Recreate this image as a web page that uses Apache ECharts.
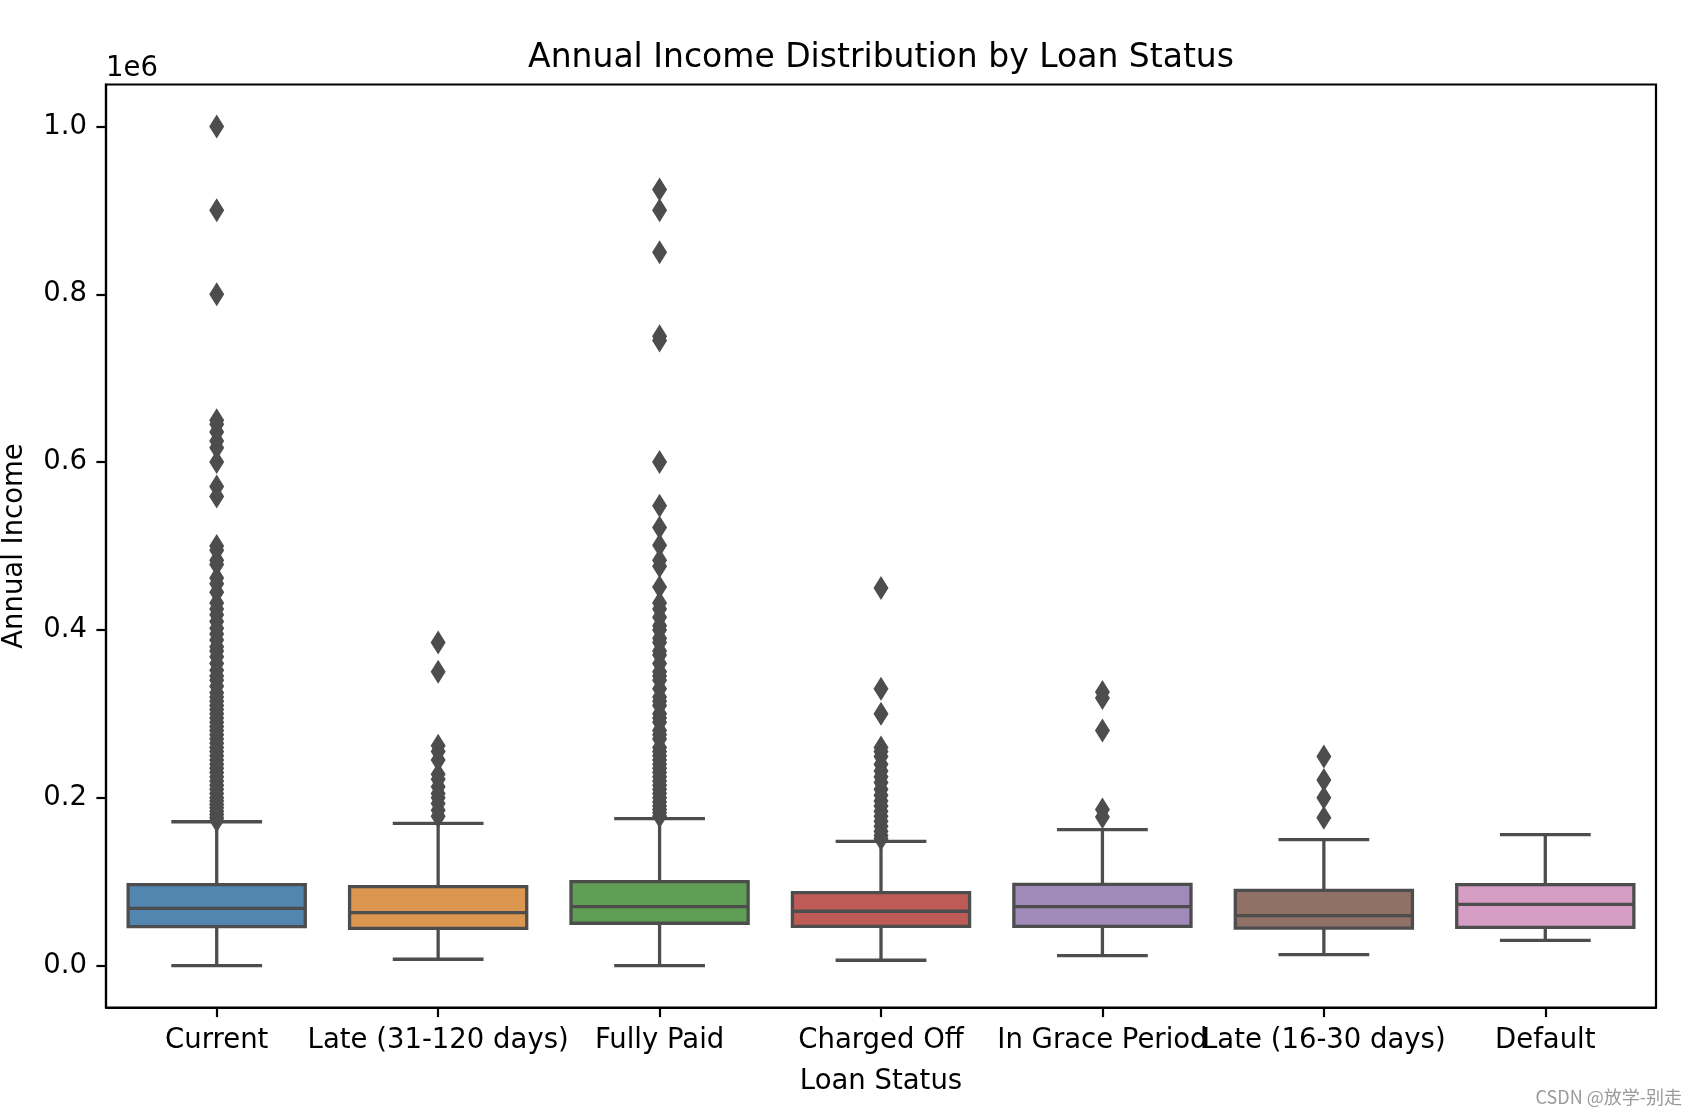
<!DOCTYPE html>
<html>
<head>
<meta charset="utf-8">
<script src="https://cdn.jsdelivr.net/npm/echarts@6/dist/echarts.min.js"></script>
<style>
html,body{margin:0;padding:0;background:#fff;}
#chart{width:1696px;height:1118px;}
</style>
</head>
<body>
<div id="chart"></div>
<script>
// ---- data ----
const categories = ["Current", "Late (31-120 days)", "Fully Paid", "Charged Off", "In Grace Period", "Late (16-30 days)", "Default"];
const lowWhisker  = [0,      7500,   0,      6300,   11900,  13100,  30100];
const q1Values    = [46400,  44400,  50400,  46800,  46800,  44500,  45600];
const medianValues= [68200,  63100,  70200,  64700,  70200,  59500,  73000];
const q3Values    = [96400,  94000,  100000, 86900,  96800,  89700,  96400];
const highWhisker = [171400, 169400, 175000, 148000, 162000, 150000, 156000];

const outliersCurrent = [1000000, 900000, 800000, 650000, 645000, 636000, 625000, 617000, 600000, 571000, 559000,
  500000, 495000, 483000, 478000, 462000, 455000, 445000, 432000, 425000, 418000, 410000, 402000, 395000, 388000,
  380000, 375000, 368000, 360000, 352000, 345000, 340000, 333000, 325000, 320000, 315000, 310000, 305000, 300000,
  295000, 290000, 285000, 280000, 275000, 270000, 265000, 260000, 255000, 250000, 245000, 240000, 235000, 230000,
  225000, 220000, 215000, 210000, 205000, 200000, 196000, 192000, 188000, 184000, 180000, 176000, 173000];
const outliersLate31 = [385000, 350000, 262000, 255000, 245000, 228000, 222000, 213000, 205000, 200000, 193000, 185000, 178000];
const outliersFullyPaid = [925000, 900000, 850000, 750000, 745000, 600000, 548000, 522000, 501000, 483000, 476000,
  451000, 432000, 425000, 415000, 405000, 400000, 390000, 385000, 375000, 370000, 360000, 350000, 345000, 340000,
  330000, 320000, 315000, 310000, 300000, 295000, 290000, 280000, 275000, 270000, 260000, 255000, 250000, 245000,
  240000, 235000, 230000, 225000, 220000, 215000, 210000, 205000, 200000, 195000, 190000, 186000, 182000, 178000];
const outliersChargedOff = [450000, 330000, 300000, 260000, 255000, 249000, 240000, 232000, 225000, 218000, 210000,
  203000, 196000, 190000, 184000, 178000, 172000, 166000, 160000, 155000, 151000];
const outliersGrace = [326000, 319000, 280000, 186000, 177000];
const outliersLate16 = [249000, 221000, 200000, 176000];
const outliersDefault = [];

const yTickValues = [0, 200000, 400000, 600000, 800000, 1000000];
const yTickLabels = ["0.0", "0.2", "0.4", "0.6", "0.8", "1.0"];
const yScaleText = "1e6";

// ---- style ----
const boxColors = ['#5286b0', '#db974f', '#5f9f55', '#bf5b56', '#a08ab9', '#917066', '#d69dc5'];
const lineColor = '#4d4d4d';
const FONT = 'DejaVu Sans';

const outlierLists = [outliersCurrent, outliersLate31, outliersFullyPaid, outliersChargedOff, outliersGrace, outliersLate16, outliersDefault];

const boxData = categories.map((c, i) => [i, lowWhisker[i], q1Values[i], medianValues[i], q3Values[i], highWhisker[i]]);
const outlierData = [];
outlierLists.forEach((list, i) => list.forEach(v => outlierData.push([i, v])));

const chart = echarts.init(document.getElementById('chart'));

function renderBox(params, api) {
  const i = api.value(0);
  const band = api.size([1, 0])[0];
  const halfBox = band * 0.4;
  const capHalf = band * 0.205;
  const pLow = api.coord([i, api.value(1)]);
  const pQ1 = api.coord([i, api.value(2)]);
  const pMed = api.coord([i, api.value(3)]);
  const pQ3 = api.coord([i, api.value(4)]);
  const pHigh = api.coord([i, api.value(5)]);
  const x = pMed[0];
  const lw = 3.3;
  const ls = { stroke: lineColor, lineWidth: lw, fill: null };
  return {
    type: 'group',
    children: [
      { type: 'line', shape: { x1: x, y1: pQ1[1], x2: x, y2: pLow[1] }, style: ls },
      { type: 'line', shape: { x1: x, y1: pQ3[1], x2: x, y2: pHigh[1] }, style: ls },
      { type: 'line', shape: { x1: x - capHalf, y1: pLow[1], x2: x + capHalf, y2: pLow[1] }, style: ls },
      { type: 'line', shape: { x1: x - capHalf, y1: pHigh[1], x2: x + capHalf, y2: pHigh[1] }, style: ls },
      { type: 'rect', shape: { x: x - halfBox, y: pQ3[1], width: halfBox * 2, height: pQ1[1] - pQ3[1] },
        style: { fill: boxColors[params.dataIndex], stroke: lineColor, lineWidth: lw } },
      { type: 'line', shape: { x1: x - halfBox, y1: pMed[1], x2: x + halfBox, y2: pMed[1] }, style: ls }
    ]
  };
}

const option = {
  animation: false,
  backgroundColor: '#ffffff',
  title: {
    text: 'Annual Income Distribution by Loan Status',
    left: 881,
    textAlign: 'center',
    top: 42,
    padding: 0,
    textStyle: { fontFamily: FONT, fontSize: 33, fontWeight: 'normal', color: '#000' }
  },
  grid: { left: 106, right: 40, top: 84.5, bottom: 110.5, outerBoundsMode: 'none', containLabel: false,
          show: true, borderColor: '#000', borderWidth: 2.2, backgroundColor: 'transparent' },
  xAxis: {
    type: 'category',
    data: categories,
    boundaryGap: true,
    name: 'Loan Status',
    nameLocation: 'middle',
    nameGap: 60,
    nameTextStyle: { fontFamily: FONT, fontSize: 27.5, color: '#000' },
    axisLine: { show: true, onZero: false, lineStyle: { color: '#000', width: 2.2 } },
    axisTick: { show: true, alignWithLabel: true, length: 9.6, lineStyle: { color: '#000', width: 2.2 } },
    axisLabel: { interval: 0, margin: 19, fontFamily: FONT, fontSize: 27.5, color: '#000' },
    splitLine: { show: false }
  },
  yAxis: {
    type: 'value',
    min: -50000,
    max: 1050000,
    name: 'Annual Income',
    nameLocation: 'middle',
    nameRotate: 90,
    nameGap: 77,
    nameTextStyle: { fontFamily: FONT, fontSize: 27.5, color: '#000' },
    axisLine: { show: true, lineStyle: { color: '#000', width: 2.2 } },
    axisTick: { show: true, length: 9.6, lineStyle: { color: '#000', width: 2.2 }, customValues: yTickValues },
    axisLabel: {
      margin: 19, fontFamily: FONT, fontSize: 27.5, color: '#000',
      customValues: yTickValues,
      formatter: v => yTickLabels[yTickValues.indexOf(v)]
    },
    splitLine: { show: false }
  },
  graphic: [
    { type: 'text', left: 106, top: 55, style: { text: yScaleText, font: '27.5px "DejaVu Sans"', fill: '#000' } },
    { type: 'text', right: 14, top: 1088, style: { text: 'CSDN @放学-别走', font: '18px "Noto Sans CJK SC"', fill: '#9a9a9a' } }
  ],
  series: [
    {
      type: 'custom',
      renderItem: renderBox,
      data: boxData,
      encode: { x: 0, y: [1, 2, 3, 4, 5] },
      z: 2
    },
    {
      type: 'scatter',
      data: outlierData,
      symbol: 'diamond',
      symbolSize: [15, 24],
      itemStyle: { color: lineColor, opacity: 1 },
      z: 3
    }
  ]
};
chart.setOption(option);
</script>
</body>
</html>
